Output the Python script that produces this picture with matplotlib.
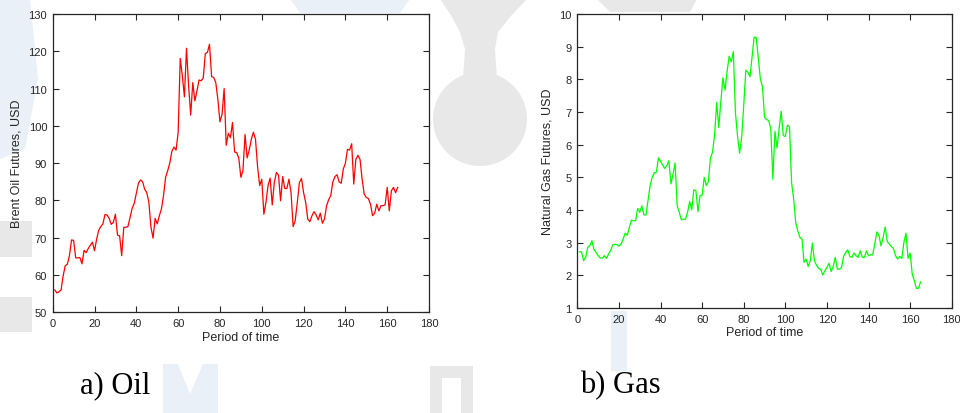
import matplotlib as mpl

mpl.use("Agg")
import matplotlib.pyplot as plt
from matplotlib.patches import Circle, Polygon, Rectangle

# Brent oil futures (USD), one value per period 1..165
oil_t = list(range(1, 166))
oil_usd = [
    56.0, 55.2, 55.5, 56.0, 59.8, 62.5, 62.9, 65.2, 69.4, 69.3,
    64.6, 64.6, 64.7, 63.0, 66.6, 66.0, 67.1, 68.0, 68.8, 66.5,
    69.6, 72.0, 73.0, 73.7, 76.2, 76.1, 75.2, 73.6, 74.1, 76.3,
    70.7, 70.5, 65.2, 72.8, 72.8, 73.0, 75.4, 77.9, 79.2, 81.9,
    84.6, 85.5, 85.0, 83.0, 82.1, 79.5, 72.8, 69.9, 75.2, 73.7,
    75.9, 77.7, 81.3, 86.2, 88.0, 90.0, 93.2, 94.3, 93.5, 98.2,
    118.1, 113.4, 107.8, 120.8, 110.8, 102.9, 111.6, 106.7, 109.4, 112.3,
    112.1, 112.8, 119.4, 119.7, 121.9, 113.2, 113.0, 111.6, 107.1, 101.1,
    103.1, 110.0, 94.8, 98.0, 96.8, 100.9, 93.0, 92.8, 91.4, 86.2,
    88.0, 97.7, 91.4, 93.5, 96.4, 98.3, 96.4, 89.0, 84.0, 85.7,
    76.3, 79.5, 84.0, 86.0, 78.8, 84.8, 87.5, 86.8, 79.9, 86.4,
    83.2, 83.2, 85.7, 82.1, 73.0, 74.6, 79.5, 84.8, 85.9, 82.1,
    79.5, 75.0, 74.3, 75.9, 77.0, 76.1, 74.8, 76.6, 73.9, 75.0,
    78.6, 80.2, 81.3, 85.0, 86.4, 86.9, 85.0, 84.6, 88.4, 90.0,
    93.7, 93.5, 95.2, 84.4, 91.0, 92.1, 91.0, 85.7, 81.7, 80.8,
    80.5, 79.0, 75.9, 76.6, 79.0, 77.2, 78.6, 78.6, 78.8, 83.5,
    77.2, 82.6, 83.5, 82.1, 83.5,
]

# Natural gas futures (USD)
gas_t = list(range(1, 166))
gas_usd = [
    2.72, 2.72, 2.45, 2.55, 2.86, 2.91, 3.06, 2.79, 2.70, 2.60,
    2.53, 2.53, 2.60, 2.52, 2.65, 2.76, 2.93, 2.95, 2.94, 2.89,
    2.96, 3.11, 3.29, 3.23, 3.47, 3.69, 3.67, 3.67, 4.05, 3.93,
    4.13, 3.85, 3.85, 4.29, 4.75, 5.00, 5.14, 5.16, 5.60, 5.49,
    5.38, 5.27, 5.36, 5.51, 4.80, 5.10, 5.44, 4.13, 3.93, 3.70,
    3.72, 3.72, 3.93, 4.26, 4.01, 4.62, 4.59, 3.95, 4.44, 4.46,
    5.00, 4.75, 4.87, 5.60, 5.77, 6.32, 7.29, 6.53, 7.34, 8.05,
    7.67, 8.25, 8.71, 8.54, 8.85, 6.99, 6.27, 5.74, 6.22, 7.21,
    8.28, 8.22, 8.08, 8.69, 9.30, 9.27, 8.66, 8.00, 7.78, 6.84,
    6.77, 6.74, 6.48, 4.94, 6.41, 5.90, 6.49, 7.02, 6.28, 6.25,
    6.60, 6.55, 4.84, 4.33, 3.62, 3.36, 3.16, 3.11, 2.40, 2.50,
    2.27, 2.45, 2.99, 2.45, 2.31, 2.21, 2.19, 2.01, 2.14, 2.24,
    2.37, 2.12, 2.27, 2.55, 2.19, 2.19, 2.24, 2.58, 2.70, 2.78,
    2.58, 2.55, 2.68, 2.60, 2.55, 2.75, 2.55, 2.55, 2.75, 2.60,
    2.63, 2.63, 2.96, 3.33, 3.23, 2.90, 3.16, 3.48, 3.03, 2.96,
    2.88, 2.82, 2.60, 2.50, 2.58, 2.52, 3.01, 3.29, 2.52, 2.68,
    2.04, 1.84, 1.60, 1.60, 1.80,
]

x_ticks = list(range(0, 181, 20))
oil_ticks = list(range(50, 131, 10))
gas_ticks = list(range(1, 11))

INK = "#262626"
GREY = "#e8e8e8"
BLUE = "#e9f0f7"


def watermark(fig):
    # faint page watermark behind the two panels, drawn in pixel coordinates
    bg = fig.add_axes([0, 0, 1, 1], zorder=-1)
    bg.set_xlim(0, 960)
    bg.set_ylim(414, 0)
    bg.axis("off")
    bg.add_patch(Circle((480, 120), 47, color=GREY, lw=0))
    bg.add_patch(Polygon([(440, 0), (527, 0), (510, 18), (498, 33), (495, 50), (497, 80),
                          (463, 80), (465, 50), (460, 33), (452, 18)], color=GREY, lw=0))
    bg.add_patch(Polygon([(290, 0), (410, 0), (400, 14), (300, 14)], color=BLUE, lw=0))
    bg.add_patch(Polygon([(597, 0), (697, 0), (690, 13), (610, 13)], color=GREY, lw=0))
    bg.add_patch(Polygon([(0, 0), (30, 0), (38, 80), (25, 150), (0, 160)], color=BLUE, lw=0))
    bg.add_patch(Rectangle((0, 222), 32, 36, color=GREY, lw=0))
    bg.add_patch(Rectangle((0, 298), 32, 35, color=GREY, lw=0))
    bg.add_patch(Polygon([(163, 365), (178, 365), (190, 395), (203, 365), (218, 365),
                          (218, 414), (163, 414)], color=BLUE, lw=0))
    bg.add_patch(Rectangle((611, 312), 16, 60, color=BLUE, lw=0))
    bg.add_patch(Rectangle((430, 367), 43, 47, color=GREY, lw=0))
    bg.add_patch(Rectangle((442, 379), 19, 35, color="white", lw=0))


def style(ax, yticks, ylabel):
    ax.set_xlim(0, 180)
    ax.set_xticks(x_ticks)
    ax.set_ylim(yticks[0], yticks[-1])
    ax.set_yticks(yticks)
    ax.tick_params(direction="in", length=4, width=0.8, colors=INK, labelsize=8,
                   top=True, right=True, pad=4)
    for sp in ax.spines.values():
        sp.set_color(INK)
        sp.set_linewidth(0.9)
    ax.set_xlabel("Period of time", fontsize=9, color=INK, labelpad=2)
    ax.set_ylabel(ylabel, fontsize=9, color=INK, labelpad=4)


def main():
    plt.rcParams["font.family"] = ["Liberation Sans", "DejaVu Sans"]
    fig = plt.figure(figsize=(9.6, 4.14), dpi=100)
    watermark(fig)

    ax1 = fig.add_axes([0.0549, 0.2432, 0.392, 0.7206])
    ax1.plot(oil_t, oil_usd, color="#ff0000", lw=0.9)
    style(ax1, oil_ticks, "Brent Oil Futures, USD")

    ax2 = fig.add_axes([0.6014, 0.2536, 0.390, 0.7101])
    ax2.plot(gas_t, gas_usd, color="#00ff00", lw=0.9)
    style(ax2, gas_ticks, "Natural Gas Futures, USD")

    fig.text(80 / 960, 1 - 386 / 414, "a) Oil", family="Liberation Serif", fontsize=22,
             va="center", ha="left", color="black")
    fig.text(580 / 960, 1 - 386 / 414, "b) Gas", family="Liberation Serif", fontsize=22,
             va="center", ha="left", color="black")

    fig.savefig("out.png", dpi=100, facecolor="white")
    plt.close(fig)


if __name__ == "__main__":
    main()
